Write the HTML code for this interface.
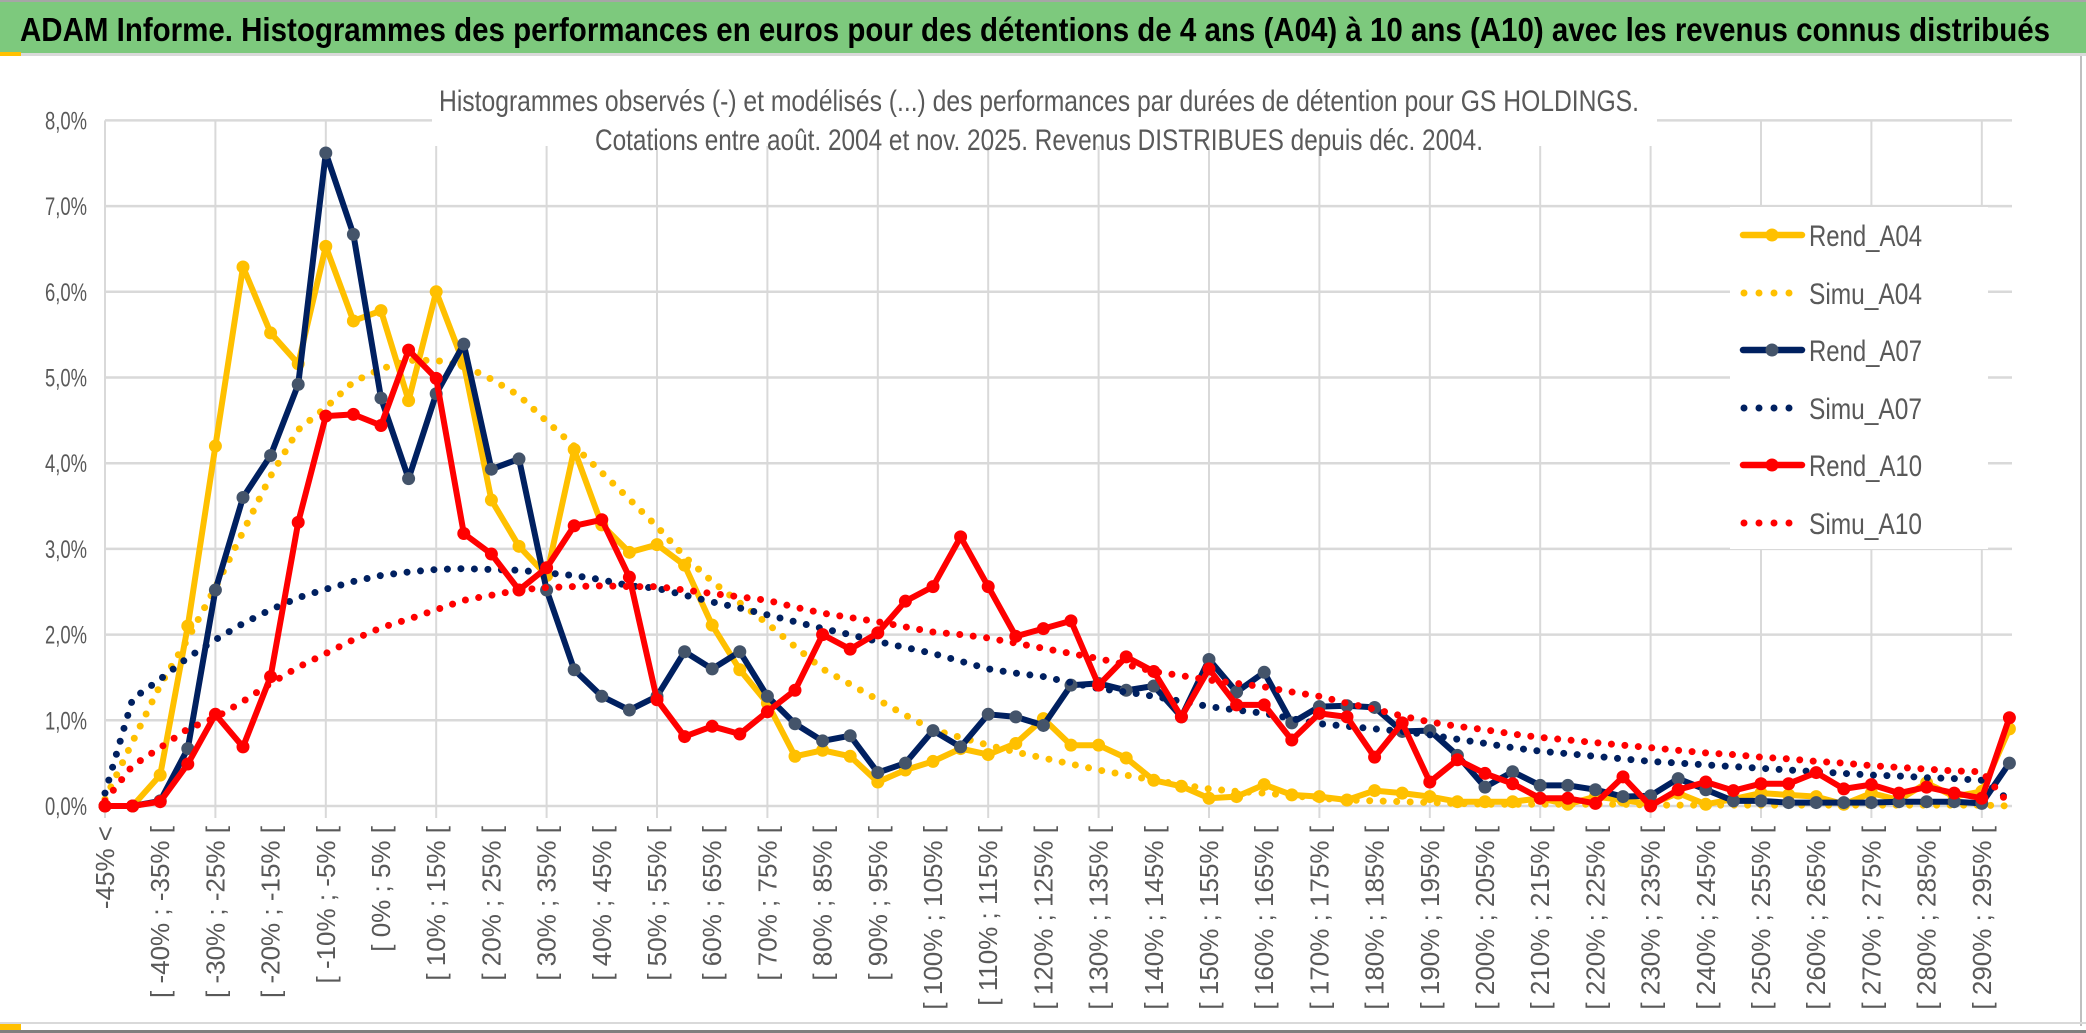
<!DOCTYPE html>
<html><head><meta charset="utf-8"><style>
html,body{margin:0;padding:0;background:#fff;}
svg{display:block;font-family:"Liberation Sans",sans-serif;}
</style></head><body>
<svg id="chart" width="2086" height="1033" viewBox="0 0 2086 1033" xmlns="http://www.w3.org/2000/svg">
<rect x="0" y="0" width="2086" height="1033" fill="#fff"/>
<rect x="0" y="0" width="2086" height="2" fill="#a6a6a6"/>
<rect x="0" y="2" width="2086" height="51" fill="#7dc97d"/>
<rect x="0" y="53" width="2086" height="3" fill="#d9d9d9"/>
<rect x="0" y="52" width="21" height="4" fill="#ffc000"/>
<text x="20" y="41" font-size="33" font-weight="bold" fill="#000" textLength="2030" lengthAdjust="spacingAndGlyphs">ADAM Informe. Histogrammes des performances en euros pour des détentions de 4 ans (A04) à 10 ans (A10) avec les revenus connus distribués</text>
<rect x="2080" y="56" width="2" height="970" fill="#bfbfbf"/>
<rect x="0" y="1022" width="2086" height="2" fill="#d9d9d9"/>
<rect x="0" y="1030" width="2086" height="3" fill="#7f7f7f"/>
<rect x="0" y="1024" width="21" height="6" fill="#ffc000"/>
<g id="grid"></g>
<g id="ylabels"></g>
<g id="xlabels"></g>
<rect x="432" y="60" width="1225" height="86" fill="#fff"/>
<text x="439" y="111" font-size="30" fill="#595959" textLength="1200" lengthAdjust="spacingAndGlyphs">Histogrammes observés (-) et modélisés (...) des performances par durées de détention pour GS HOLDINGS.</text>
<text x="595" y="150" font-size="30" fill="#595959" textLength="888" lengthAdjust="spacingAndGlyphs">Cotations entre août. 2004 et nov. 2025. Revenus DISTRIBUES depuis déc. 2004.</text>
<rect x="1730" y="207" width="258" height="342" fill="#fff"/>
<g id="series"></g>
<g id="legend"></g>
</svg>
<script>
const yTicks = ["0,0%","1,0%","2,0%","3,0%","4,0%","5,0%","6,0%","7,0%","8,0%"];
const categories = ["-45% <"];
for (let a = -45; a < 300; a += 5) categories.push("[ " + a + "% ; " + (a + 5) + "% [");
categories.length = 70;
const seriesNames = ["Rend_A04","Simu_A04","Rend_A07","Simu_A07","Rend_A10","Simu_A10"];
const rendA04 = [0,0,0.36,2.1,4.2,6.29,5.52,5.16,6.53,5.66,5.78,4.73,6.0,5.16,3.57,3.03,2.69,4.16,3.28,2.96,3.05,2.81,2.11,1.59,1.2,0.58,0.65,0.58,0.28,0.42,0.52,0.67,0.6,0.73,1.02,0.71,0.71,0.56,0.3,0.23,0.09,0.11,0.25,0.13,0.11,0.07,0.18,0.15,0.11,0.05,0.05,0.05,0.09,0.02,0.11,0.07,0.02,0.15,0.02,0.08,0.15,0.13,0.11,0.02,0.15,0.07,0.27,0.11,0.17,0.9];
const simuA04 = [0.08,0.75,1.41,1.95,2.55,3.2,3.85,4.39,4.65,4.95,5.1,5.2,5.2,5.14,4.98,4.79,4.49,4.2,3.89,3.58,3.26,2.91,2.62,2.37,2.13,1.86,1.6,1.42,1.24,1.06,0.89,0.8,0.71,0.63,0.56,0.49,0.42,0.36,0.3,0.25,0.2,0.17,0.15,0.12,0.09,0.07,0.06,0.05,0.04,0.03,0.02,0.02,0.02,0.02,0.02,0.02,0.01,0.01,0.01,0.01,0.01,0.01,0.01,0.01,0.01,0.01,0.01,0.01,0.01,0.0];
const rendA07 = [0,0,0.06,0.67,2.52,3.6,4.09,4.92,7.62,6.67,4.76,3.82,4.81,5.39,3.93,4.05,2.52,1.59,1.28,1.12,1.28,1.8,1.6,1.8,1.28,0.96,0.76,0.82,0.39,0.5,0.88,0.69,1.07,1.04,0.94,1.41,1.43,1.35,1.4,1.04,1.71,1.33,1.56,0.97,1.16,1.17,1.15,0.87,0.88,0.59,0.22,0.4,0.24,0.24,0.19,0.11,0.12,0.32,0.19,0.06,0.06,0.04,0.04,0.04,0.04,0.05,0.05,0.05,0.03,0.5];
const simuA07 = [0.15,1.25,1.48,1.73,1.94,2.13,2.29,2.43,2.53,2.62,2.69,2.73,2.76,2.77,2.76,2.75,2.72,2.69,2.64,2.57,2.54,2.46,2.38,2.31,2.23,2.15,2.07,2.0,1.92,1.85,1.78,1.69,1.6,1.55,1.51,1.44,1.37,1.33,1.28,1.22,1.16,1.12,1.08,1.02,0.96,0.93,0.9,0.87,0.83,0.78,0.73,0.68,0.64,0.61,0.58,0.55,0.52,0.5,0.48,0.46,0.44,0.42,0.4,0.38,0.36,0.35,0.33,0.32,0.3,0.07];
const rendA10 = [0,0,0.05,0.49,1.07,0.69,1.51,3.31,4.55,4.57,4.44,5.32,4.99,3.18,2.94,2.52,2.78,3.27,3.34,2.67,1.24,0.81,0.93,0.84,1.1,1.35,2.0,1.83,2.02,2.39,2.56,3.14,2.56,1.98,2.07,2.16,1.41,1.74,1.57,1.04,1.6,1.18,1.18,0.77,1.08,1.04,0.57,0.97,0.28,0.54,0.38,0.26,0.09,0.09,0.03,0.34,0.0,0.19,0.28,0.18,0.26,0.26,0.39,0.2,0.25,0.15,0.22,0.15,0.09,1.03];
const simuA10 = [0.06,0.47,0.68,0.9,1.03,1.22,1.43,1.62,1.78,1.94,2.08,2.18,2.29,2.4,2.46,2.52,2.55,2.56,2.57,2.56,2.56,2.52,2.48,2.44,2.4,2.32,2.25,2.2,2.15,2.09,2.03,2.0,1.96,1.9,1.84,1.78,1.72,1.65,1.57,1.52,1.47,1.43,1.39,1.33,1.28,1.2,1.13,1.05,0.98,0.93,0.89,0.84,0.8,0.77,0.74,0.71,0.68,0.65,0.62,0.6,0.57,0.55,0.52,0.5,0.47,0.45,0.43,0.41,0.4,0.02];

const NS = "http://www.w3.org/2000/svg";
const X0 = 105, STEP = 27.6, Y0 = 806, PER = 85.7, XR = 2012;
function xScale(i){ return X0 + STEP * i; }
function yScale(v){ return Y0 - PER * v; }
function mk(tag, attrs, parent){
  const e = document.createElementNS(NS, tag);
  for (const k in attrs) e.setAttribute(k, attrs[k]);
  parent.appendChild(e); return e;
}
const grid = document.getElementById('grid');
yTicks.forEach((t, k) => {
  const y = yScale(k);
  const ln = mk('line', {x1: X0, x2: XR, y1: y, y2: y, stroke: '#d9d9d9', 'stroke-width': 2.5}, grid);
  
  
  const tx = mk('text', {x: 87, y: y + 9, 'font-size': 25, fill: '#595959', 'text-anchor': 'end', textLength: 42, lengthAdjust: 'spacingAndGlyphs'}, document.getElementById('ylabels'));
  tx.textContent = t;
  
  
});
for (let i = 0; i < categories.length; i += 4) {
  const x = xScale(i);
  const ln = mk('line', {x1: x, x2: x, y1: yScale(8), y2: Y0 + 12, stroke: '#d9d9d9', 'stroke-width': 2}, grid);
  
  
}
const xl = document.getElementById('xlabels');
for (let i = 0; i < categories.length; i += 2) {
  const x = xScale(i) + 9;
  const tx = mk('text', {x: x, y: 826, 'font-size': 26, fill: '#595959', 'text-anchor': 'end', transform: 'rotate(-90 ' + x + ' 826)'}, xl);
  tx.textContent = categories[i];
  
  
}
const sg = document.getElementById('series');
const defs = [
  {name: 'Rend_A04', data: rendA04, color: '#ffc000', marker: '#ffc000', dotted: false},
  {name: 'Simu_A04', data: simuA04, color: '#ffc000', dotted: true},
  {name: 'Rend_A07', data: rendA07, color: '#002060', marker: '#44546a', dotted: false},
  {name: 'Simu_A07', data: simuA07, color: '#002060', dotted: true},
  {name: 'Rend_A10', data: rendA10, color: '#ff0000', marker: '#ff0000', dotted: false},
  {name: 'Simu_A10', data: simuA10, color: '#ff0000', dotted: true}
];
defs.forEach(s => {
  const g = mk('g', {}, sg);
  
  
  const pts = s.data.map((v, i) => xScale(i).toFixed(1) + ',' + yScale(v).toFixed(1)).join(' ');
  if (s.dotted) {
    const pl = mk('polyline', {points: pts, fill: 'none', stroke: s.color, 'stroke-width': 7, 'stroke-linecap': 'round', 'stroke-linejoin': 'round', 'stroke-dasharray': '0 13.5'}, g);
    
    
  } else {
    const pl = mk('polyline', {points: pts, fill: 'none', stroke: s.color, 'stroke-width': 6, 'stroke-linejoin': 'round'}, g);
    
    
    s.data.forEach((v, i) => {
      const c = mk('circle', {cx: xScale(i), cy: yScale(v), r: 6.5, fill: s.marker}, g);
      
      
    });
  }
});
const lg = document.getElementById('legend');
const rowsY = [235, 293, 350, 408, 465, 523];
defs.forEach((s, k) => {
  const y = rowsY[k];
  const g = mk('g', {}, lg);
  
  
  if (s.dotted) {
    mk('line', {x1: 1744, x2: 1790, y1: y, y2: y, stroke: s.color, 'stroke-width': 7, 'stroke-linecap': 'round', 'stroke-dasharray': '0 15'}, g);
  } else {
    mk('line', {x1: 1743, x2: 1802, y1: y, y2: y, stroke: s.color, 'stroke-width': 6.5, 'stroke-linecap': 'round'}, g);
    mk('circle', {cx: 1772, cy: y, r: 6.5, fill: s.marker}, g);
  }
  const t = mk('text', {x: 1809, y: y + 11, 'font-size': 30, fill: '#595959', textLength: 113, lengthAdjust: 'spacingAndGlyphs'}, g);
  t.textContent = s.name;
  
  
});
</script>
</body></html>
